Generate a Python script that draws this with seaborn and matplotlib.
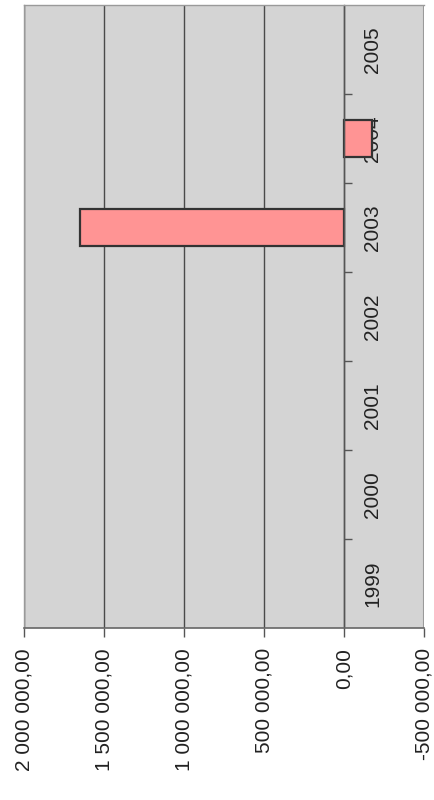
import numpy as np
import pandas as pd
import matplotlib
matplotlib.use("Agg")
import matplotlib.pyplot as plt
import seaborn as sns
from matplotlib.ticker import FuncFormatter, FixedLocator

# Yearly amounts (only 2003 and 2004 carry values)
years = ["1999", "2000", "2001", "2002", "2003", "2004", "2005"]
amounts = [np.nan, np.nan, np.nan, np.nan, 1650000.0, -175000.0, np.nan]
value_ticks = [2000000, 1500000, 1000000, 500000, 0, -500000]

sns.set_theme(style="white")
family = ["Liberation Sans", "DejaVu Sans"]
plt.rcParams["font.family"] = family
label_size = 15

df = pd.DataFrame({"year": years, "amount": amounts}).dropna()

fig = plt.figure(figsize=(4.35, 8.0), dpi=100)
ax = fig.add_axes([24 / 435, 1 - 628 / 800, 400 / 435, 623 / 800])
ax.set_facecolor("#d4d4d4")
ax.set_axisbelow(True)

sns.barplot(data=df, x="amount", y="year", order=years, orient="h",
            color="#ff9494", saturation=1, edgecolor="#333333",
            linewidth=1.6, width=0.42, ax=ax)

ax.set_ylim(-0.5, len(years) - 0.5)
ax.set_xlim(value_ticks[0], value_ticks[-1])
ax.set_xlabel("")
ax.set_ylabel("")

# value axis along the bottom, labels written upward
ax.xaxis.set_major_locator(FixedLocator(value_ticks))
ax.xaxis.set_major_formatter(FuncFormatter(
    lambda v, p: f"{v:,.2f}".replace(",", " ").replace(".", ",")))
ax.tick_params(axis="x", bottom=True, direction="out", length=6.5, width=1,
               color="#555555", pad=8, labelcolor="#222222",
               labelrotation=90)
ax.xaxis.grid(True, color="#4a4a4a", linewidth=1)

# category axis sits at zero, labels to its right
ax.spines["right"].set_position(("data", 0))
ax.spines["right"].set_color("#555555")
ax.spines["right"].set_linewidth(1)
ax.yaxis.tick_right()
ax.yaxis.set_minor_locator(FixedLocator(np.arange(0.5, len(years) - 1, 1.0)))
ax.tick_params(axis="y", which="major", right=True, left=False, length=0,
               pad=14, labelcolor="#222222", labelrotation=90)
ax.tick_params(axis="y", which="minor", right=True, left=False, length=6,
               width=1, color="#555555", direction="out")

fig.canvas.draw()
for lab in ax.get_xticklabels():
    lab.set_fontsize(label_size)
for lab in ax.get_yticklabels():
    lab.set_fontsize(label_size)
    lab.set_va("center")
    lab.set_ha("left")

ax.spines["bottom"].set_color("#666666")
ax.spines["bottom"].set_linewidth(1.2)
for side in ("left", "top"):
    ax.spines[side].set_color("#9a9a9a")
    ax.spines[side].set_linewidth(1)
ax.axvline(value_ticks[-1], color="#9a9a9a", linewidth=1.5)

fig.savefig("out.png", dpi=100, facecolor="white")
